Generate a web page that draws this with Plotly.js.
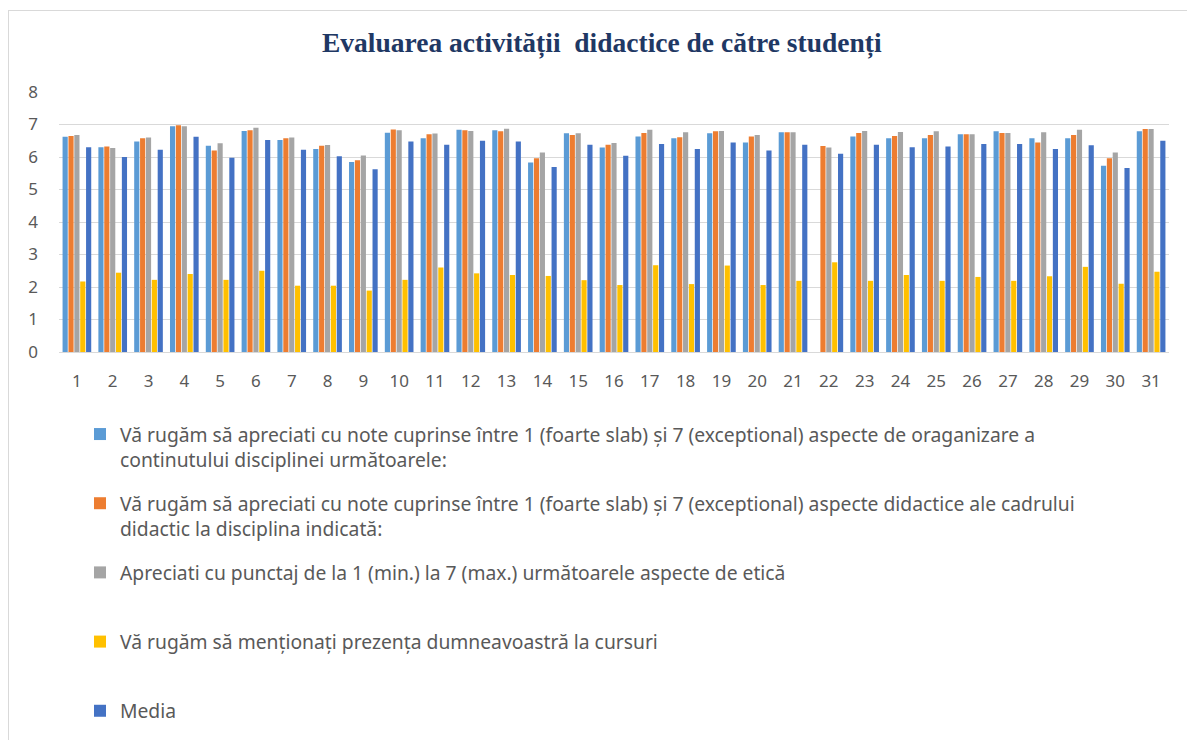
<!DOCTYPE html>
<html>
<head>
<meta charset="utf-8">
<script src="https://cdn.plot.ly/plotly-3.0.1.min.js"></script>
<style>
  body { margin: 0; background: #fff; }
  #chart { width: 1187px; height: 740px; }
  #frame { position: absolute; left: 8px; top: 10px; width: 1200px; height: 760px;
           border: 1px solid #d9d9d9; pointer-events: none; }
</style>
</head>
<body>
<div id="chart"></div>
<div id="frame"></div>
<script>
// categories 1..31
var cats = [];
for (var i = 1; i <= 31; i++) cats.push(String(i));

var organizare = [6.62, 6.3, 6.48, 6.95, 6.35, 6.8, 6.52, 6.25, 5.85, 6.75,
                  6.58, 6.84, 6.82, 5.83, 6.73, 6.29, 6.63, 6.58, 6.73, 6.45,
                  6.76, null, 6.63, 6.58, 6.58, 6.7, 6.79, 6.58, 6.58, 5.73, 6.79];
var cadru = [6.65, 6.32, 6.58, 6.98, 6.2, 6.82, 6.58, 6.35, 5.9, 6.85,
             6.7, 6.82, 6.79, 5.96, 6.68, 6.38, 6.74, 6.61, 6.79, 6.63,
             6.76, 6.34, 6.74, 6.65, 6.68, 6.7, 6.74, 6.45, 6.68, 5.96, 6.86];
var etica = [6.68, 6.28, 6.6, 6.95, 6.42, 6.9, 6.6, 6.37, 6.05, 6.82,
             6.72, 6.8, 6.87, 6.14, 6.73, 6.43, 6.84, 6.76, 6.8, 6.68,
             6.76, 6.29, 6.8, 6.77, 6.79, 6.7, 6.74, 6.76, 6.84, 6.14, 6.86];
var prezenta = [2.17, 2.44, 2.22, 2.4, 2.22, 2.5, 2.04, 2.04, 1.89, 2.22,
                2.6, 2.42, 2.37, 2.34, 2.21, 2.06, 2.67, 2.09, 2.66, 2.06,
                2.19, 2.76, 2.19, 2.37, 2.19, 2.31, 2.19, 2.33, 2.62, 2.1, 2.47];
var media = [6.3, 6.0, 6.22, 6.62, 5.98, 6.52, 6.22, 6.02, 5.62, 6.48,
             6.38, 6.5, 6.48, 5.69, 6.38, 6.04, 6.4, 6.25, 6.45, 6.2,
             6.38, 6.1, 6.38, 6.3, 6.32, 6.4, 6.4, 6.25, 6.36, 5.66, 6.5];

var names = [
  "Vă rugăm să apreciati cu note cuprinse între 1 (foarte slab) și 7 (exceptional) aspecte de oraganizare a<br>continutului disciplinei următoarele:",
  "Vă rugăm să apreciati cu note cuprinse între 1 (foarte slab) și 7 (exceptional) aspecte didactice ale cadrului<br>didactic la disciplina indicată:",
  "Apreciati cu punctaj de la 1 (min.) la 7 (max.) următoarele aspecte de etică<br> ",
  "Vă rugăm să menționați prezența dumneavoastră la cursuri<br> ",
  "Media"
];
var colors = ["#5B9BD5", "#ED7D31", "#A5A5A5", "#FFC000", "#4472C4"];
var series = [organizare, cadru, etica, prezenta, media];

var data = series.map(function (vals, k) {
  return {
    x: cats, y: vals, type: "bar", name: names[k],
    legendgroup: "g" + k,
    marker: {color: colors[k]}
  };
});

var font = "Noto Sans, Open Sans, sans-serif";
var layout = {
  width: 1187, height: 740,
  paper_bgcolor: "#fff", plot_bgcolor: "#fff",
  margin: {l: 59, r: 18, t: 92, b: 388, autoexpand: false},
  barmode: "group", bargap: 0.18, bargroupgap: 0.12,
  title: {
    text: "<b>Evaluarea activității  didactice de către studenți</b>",
    font: {family: "Liberation Serif, Times New Roman, serif", size: 27.5, color: "#1F3864"},
    xref: "container", x: 0.507, xanchor: "center",
    yref: "container", y: 1 - 42 / 740, yanchor: "middle"
  },
  xaxis: {
    type: "category",
    showline: true, linecolor: "#D9D9D9", linewidth: 1,
    ticks: "", showgrid: false,
    ticklabelstandoff: 14,
    tickfont: {family: font, size: 17, color: "#595959"}
  },
  yaxis: {
    range: [0, 8], dtick: 1,
    showgrid: true, gridcolor: "#D9D9D9", zeroline: false,
    ticklabelstandoff: 20,
    tickfont: {family: font, size: 17, color: "#595959"}
  },
  showlegend: true,
  legend: {
    orientation: "v",
    xref: "container", x: 80 / 1187, xanchor: "left",
    yref: "container", y: 1 - 415 / 740, yanchor: "top",
    valign: "top", tracegroupgap: 16,
    traceorder: "grouped",
    font: {family: font, size: 19.3, color: "#595959"},
    bgcolor: "rgba(0,0,0,0)"
  }
};

Plotly.newPlot("chart", data, layout, {displayModeBar: false});
</script>
</body>
</html>
